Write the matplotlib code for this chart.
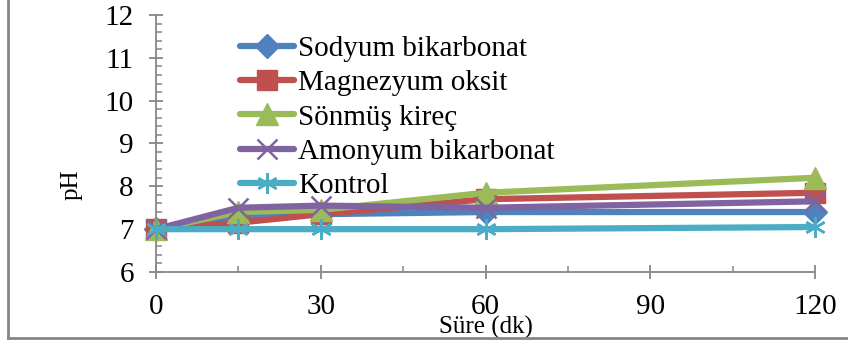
import matplotlib
matplotlib.use("Agg")
import matplotlib.pyplot as plt
from matplotlib.lines import Line2D
from matplotlib.ticker import MultipleLocator

plt.rcParams['font.family'] = ['Liberation Serif', 'DejaVu Serif']

# pH over time for each treatment
sure = [0, 15, 30, 60, 120]
sodyum_bikarbonat = [7.0, 7.3, 7.35, 7.4, 7.4]
magnezyum_oksit = [7.0, 7.15, 7.35, 7.7, 7.85]
sonmus_kirec = [7.0, 7.4, 7.45, 7.85, 8.2]
amonyum_bikarbonat = [7.0, 7.5, 7.55, 7.5, 7.65]
kontrol = [7.0, 7.0, 7.0, 7.0, 7.05]

series = [
    ("Sodyum bikarbonat", sodyum_bikarbonat, "#4F81BD", "D", 12),
    ("Magnezyum oksit", magnezyum_oksit, "#C0504D", "s", 15),
    ("Sönmüş kireç", sonmus_kirec, "#9BBB59", "^", 16),
    ("Amonyum bikarbonat", amonyum_bikarbonat, "#8064A2", "x", 14),
    ("Kontrol", kontrol, "#4BACC6", (6, 2, 0), 15),
]

fig = plt.figure(figsize=(8.48, 3.42), dpi=100)
ax = fig.add_axes([156 / 848, 1 - 272 / 342, (815 - 156) / 848, (272 - 15) / 342])

for name, vals, color, marker, ms in series:
    filled = marker in ("D", "s", "^")
    ax.plot(sure, vals, color=color, lw=4.5, marker=marker, ms=ms,
            mfc=color if filled else "none", mec=color,
            mew=1.0 if filled else 1.8, label=name, solid_capstyle="round",
            clip_on=False, zorder=3)

ax.set_xlim(0, 120)
ax.set_ylim(6, 12)
ax.xaxis.set_major_locator(MultipleLocator(30))
ax.xaxis.set_minor_locator(MultipleLocator(15))
ax.yaxis.set_major_locator(MultipleLocator(1))
ax.yaxis.set_minor_locator(MultipleLocator(0.2))

grey = "#868686"
for side in ("top", "right"):
    ax.spines[side].set_visible(False)
for side in ("left", "bottom"):
    ax.spines[side].set_color(grey)
    ax.spines[side].set_linewidth(1.3)

ax.tick_params(which="major", direction="inout", length=10, width=1.3,
               color=grey, labelsize=21, labelcolor="black")
ax.tick_params(axis="x", which="major", pad=11)
ax.tick_params(axis="y", which="major", pad=11)
ax.tick_params(which="minor", direction="in", length=4, width=1.1, color=grey)

ax.set_ylabel("pH", fontsize=18)
ax.yaxis.set_label_coords(-0.112, 0.34)
ax.set_xlabel("Süre (dk)", fontsize=18)
ax.xaxis.set_label_coords(0.5, -0.17)

leg = ax.legend(loc="upper left", bbox_to_anchor=(0.11, 0.965), frameon=False,
                fontsize=21, handlelength=1.85, handletextpad=0.15,
                labelspacing=0.27, borderaxespad=0)

# outer chart border (left and bottom edges)
fig.add_artist(Line2D([7.5 / 848, 7.5 / 848], [1, 4 / 342], color=grey, lw=2,
                      transform=fig.transFigure))
fig.add_artist(Line2D([7.5 / 848, 1], [4 / 342, 4 / 342], color=grey, lw=2,
                      transform=fig.transFigure))

fig.savefig("out.png", dpi=100)
